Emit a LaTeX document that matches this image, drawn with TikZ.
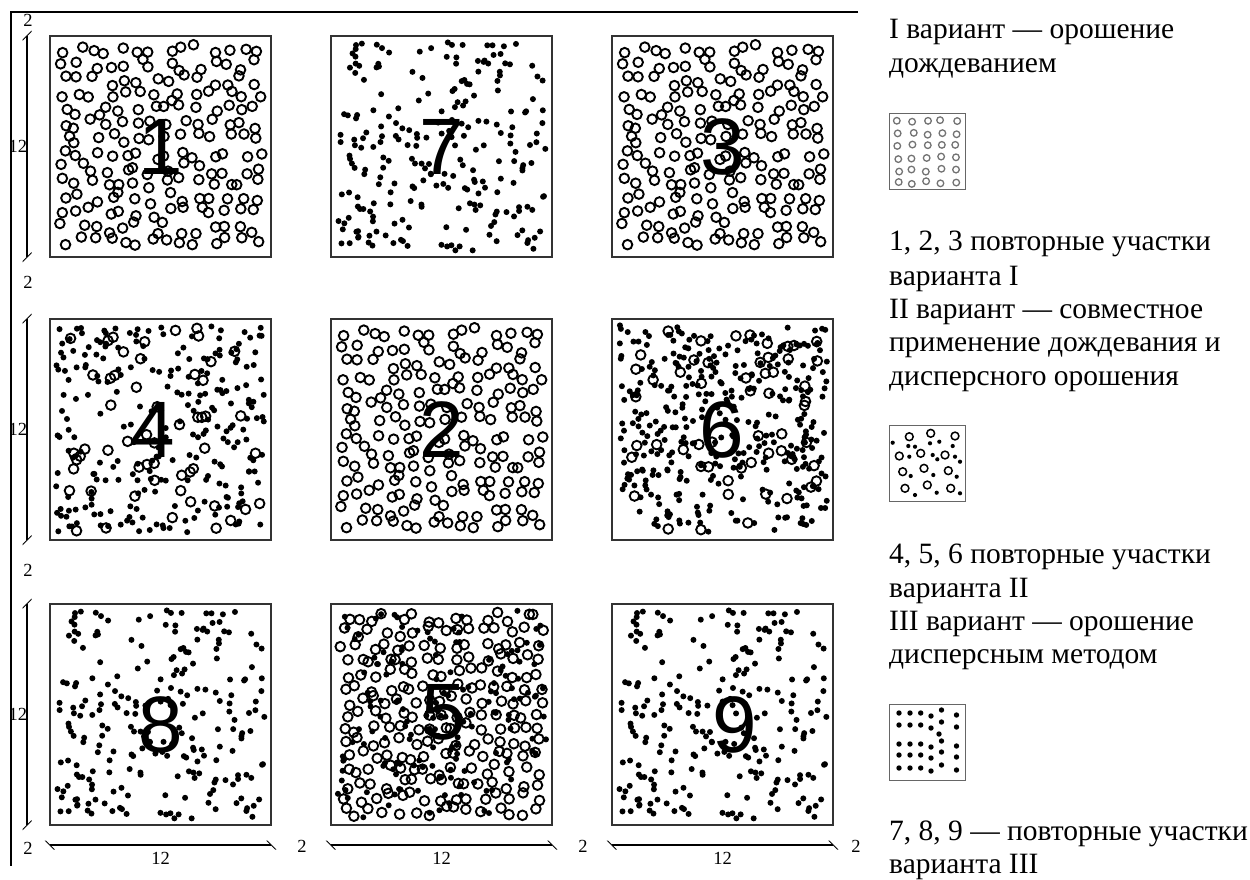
\documentclass[tikz,border=0pt]{standalone}
\usepackage{fontspec}
\setmainfont{Liberation Serif}
\newfontfamily\numfont{Liberation Sans}
\usetikzlibrary{arrows.meta, positioning}
\tikzset{
  % plots and their fillings
  plotbox/.style={draw=black!80, line width=1.8pt, minimum width=221pt, minimum height=221pt, inner sep=0pt},
  plotnum/.style={font={\numfont\fontsize{80}{80}\selectfont}, inner sep=0pt},
  ring/.style={line width=1.9pt},
  % dimensions
  dim/.style={line width=1.2pt, {Bar[width=9pt,slant=-1]}-{Bar[width=9pt,slant=-1]}},
  lbl/.style={font=\fontsize{18.5}{18.5}\selectfont, inner sep=0pt},
  % legend
  legend/.style={font=\fontsize{29.5}{29.5}\selectfont, anchor=base west, inner sep=0pt},
  legbox/.style={draw=black!60, line width=1.2pt, minimum size=76pt, inner sep=0pt, anchor=north west}
}
% rings on a shaken grid: #1,#2 top left corner, #3 cells per side
\newcommand{\ringgrid}[3]{%
  \pgfmathsetmacro\cell{207/#3}
  \foreach \i in {1,...,#3}{\foreach \j in {1,...,#3}{
    \draw[ring] ({#1+7+\cell*(\i-0.5)+0.8*\cell*(rnd-0.5)},{#2+7+\cell*(\j-0.5)+0.8*\cell*(rnd-0.5)}) circle[radius=4.8pt];}}}
% scattered rings and drops: #1,#2 top left corner, #3 how many
\newcommand{\ringsrand}[3]{%
  \foreach \i in {1,...,#3}{\draw[ring] ({#1+9+203*rnd},{#2+9+203*rnd}) circle[radius=4.8pt];}}
\newcommand{\drops}[3]{%
  \foreach \i in {1,...,#3}{\fill ({#1+6+209*rnd},{#2+6+209*rnd}) circle[radius=3pt];}}

\begin{document}
\begin{tikzpicture}[x=1pt,y=-1pt]
  \useasboundingbox (0,0) rectangle (1250,879);
  \draw[line width=1.2pt] (858,12) -- (11,12) -- (11,866);

  % fillings
  \pgfmathsetseed{11} \ringgrid{50}{36}{14}
  \pgfmathsetseed{27} \drops{331}{36}{235}
  \pgfmathsetseed{11} \ringgrid{612}{36}{14}
  \pgfmathsetseed{5} \ringsrand{50}{319}{55} \drops{50}{319}{240}
  \pgfmathsetseed{11} \ringgrid{331}{319}{14}
  \pgfmathsetseed{8} \ringsrand{612}{319}{55} \drops{612}{319}{340}
  \pgfmathsetseed{27} \drops{50}{604}{235}
  \pgfmathsetseed{3} \ringgrid{331}{604}{15} \drops{331}{604}{150}
  \pgfmathsetseed{27} \drops{612}{604}{235}

  % plots
  \node[plotbox] (p1) at (160.5,146.5) {};
  \node[plotbox] (p7) at (441.5,146.5) {};
  \node[plotbox] (p3) at (722.5,146.5) {};
  \node[plotbox] (p4) at (160.5,429.5) {};
  \node[plotbox] (p2) at (441.5,429.5) {};
  \node[plotbox] (p6) at (722.5,429.5) {};
  \node[plotbox] (p8) at (160.5,714.5) {};
  \node[plotbox] (p5) at (441.5,714.5) {};
  \node[plotbox] (p9) at (722.5,714.5) {};
  \foreach \p/\n/\dx/\dy in {p1/1/0/0, p7/7/0/0, p3/3/0/0, p4/4/-8/0, p2/2/0/0,
      p6/6/-1/0, p8/8/0/10, p5/5/2/-2, p9/9/12/10}
    \node[plotnum] (n\n) at ([shift={(\dx pt,-\dy pt)}]\p.center) {\n};

  % dimensions
  \coordinate (vx) at (27,0);
  \coordinate (hy) at (0,845);
  \foreach \p in {p1,p4,p8} \draw[dim] (vx |- \p.north) -- (vx |- \p.south);
  \foreach \p in {p8,p5,p9} \draw[dim] (\p.west |- hy) -- (\p.east |- hy);
  \foreach \yy [count=\k] in {146.5,429.5,714.5} \node[lbl] (v\k) at (18,\yy) {12};
  \foreach \xx [count=\k] in {160.5,441.5,722.5} \node[lbl] (h\k) at (\xx,858) {12};
  \foreach \xx/\yy [count=\k] in {28/20,28/282,28/570,28/848,302/846,583/846,856/846} \node[lbl] (g\k) at (\xx,\yy) {2};

  % legend
  \foreach \yy/\txt [count=\k] in {38/{I вариант — орошение}, 72/{дождеванием},
      250/{1, 2, 3 повторные участки}, 285/{варианта I},
      318/{II вариант — совместное}, 351/{применение дождевания и}, 385/{дисперсного орошения},
      563/{4, 5, 6 повторные участки}, 597/{варианта II},
      630/{III вариант — орошение}, 663/{дисперсным методом},
      840/{7, 8, 9 — повторные участки}, 873/{варианта III}}
    \node[legend] (t\k) at (889,\yy) {\txt};

  \node[legbox] (l1) at (889,113) {};
  \pgfmathsetseed{2}
  \foreach \i in {0,...,4} \foreach \j in {0,...,5}
    \draw[black!55, line width=1.3pt] ({898+14.5*\i+3*(rnd-0.5)},{121+12.3*\j+3*(rnd-0.5)}) circle[radius=3.3pt];

  \node[legbox] (l2) at (889,425) {};
  \foreach \xx/\yy in {909.3/436.7, 930.7/433.3, 955/436, 899.3/456, 920.7/453.3, 945/455,
      902.7/471.7, 924/468.3, 948.3/470.7, 905/488.3, 927.3/485, 950.7/488.3}
    \draw[line width=1.5pt] (\xx,\yy) circle[radius=3.9pt];
  \foreach \xx/\yy in {892.7/442.7, 908.3/446, 915/446.7, 930/443.3, 939.3/441.7, 952.7/446,
      909.3/456.7, 932.7/455, 937.3/459.3, 955/456.7, 960/461.7, 910.7/476, 933.3/475,
      956.7/476.7, 915/495, 936.7/492.7, 960/493.3}
    \fill (\xx,\yy) circle[radius=2.1pt];

  \node[legbox] (l3) at (889,704) {};
  \foreach \r in {713,725,744,755,768}
    \foreach \xx/\dy in {899/0, 910/0, 920.7/0, 931/3, 941.5/-3, 956.5/2}
      \fill (\xx,\r+\dy) circle[radius=2.7pt];
  \fill (939,734) circle[radius=2.7pt];
\end{tikzpicture}
\end{document}
